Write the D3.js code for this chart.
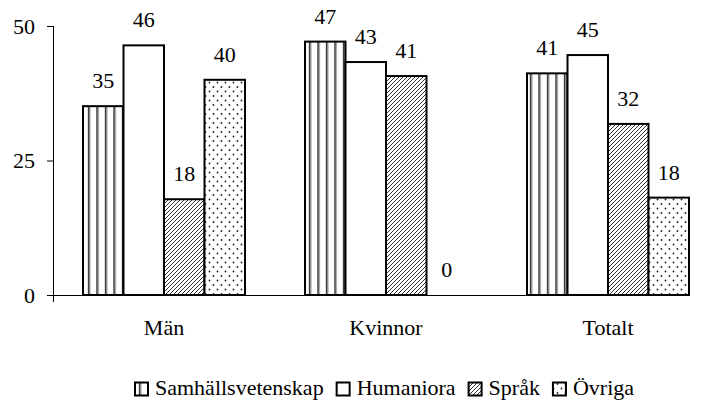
<!DOCTYPE html>
<html>
<head>
<meta charset="utf-8">
<script src="https://cdn.jsdelivr.net/npm/d3@7"></script>
<style>
  body { margin: 0; background: #fff; }
  #chart text { font-family: "Liberation Serif", "Times New Roman", serif; font-size: 22px; fill: #000; }
</style>
</head>
<body>
<svg id="chart" width="712" height="403"></svg>
<script>
// =====================
// Data
// =====================
const categories = ['Män', 'Kvinnor', 'Totalt'];
const series = ['Samhällsvetenskap', 'Humaniora', 'Språk', 'Övriga'];
const samhall   = [35.1, 47.1, 41.2];
const humaniora = [46.4, 43.3, 44.6];
const sprak     = [17.8, 40.7, 31.8];
const ovriga    = [40.0, 0,    18.1];
const yTicks = [0, 25, 50];

const values = [samhall, humaniora, sprak, ovriga];
const data = [];
categories.forEach((c, ci) => {
  series.forEach((s, si) => data.push({ cat: c, ser: s, si: si, value: values[si][ci] }));
});

// =====================
// Layout
// =====================
const
  axisX = 53,       // y-axis position
  baseY = 295,      // value 0
  topY = 26,        // value 50
  step = 222;       // width of one category band

const svg = d3.select('#chart');

// =====================
// Fill patterns
// =====================
const defs = svg.append('defs');

const pStripe = defs.append('pattern')
  .attr('id', 'p0').attr('patternUnits', 'userSpaceOnUse')
  .attr('width', 8.5).attr('height', 10);
pStripe.append('rect').attr('width', 8.5).attr('height', 10).attr('fill', '#fff');
pStripe.append('rect').attr('x', 3).attr('width', 1.3).attr('height', 10).attr('fill', '#000');
pStripe.append('rect').attr('x', 4.3).attr('width', 1).attr('height', 10).attr('fill', '#888');

const pHatch = defs.append('pattern')
  .attr('id', 'p2').attr('patternUnits', 'userSpaceOnUse')
  .attr('width', 4).attr('height', 4);
pHatch.append('rect').attr('width', 4).attr('height', 4).attr('fill', '#fff');
pHatch.append('path')
  .attr('d', 'M-1,1 L1,-1 M0,4 L4,0 M3,5 L5,3')
  .attr('stroke', '#333').attr('stroke-width', 1);

const pDots = defs.append('pattern')
  .attr('id', 'p3').attr('patternUnits', 'userSpaceOnUse')
  .attr('width', 8).attr('height', 9);
pDots.append('rect').attr('width', 8).attr('height', 9).attr('fill', '#fff');
pDots.append('circle').attr('cx', 1.5).attr('cy', 1.5).attr('r', 0.9).attr('fill', '#222');
pDots.append('circle').attr('cx', 5.5).attr('cy', 6).attr('r', 0.9).attr('fill', '#222');

const fills = ['url(#p0)', '#fff', 'url(#p2)', 'url(#p3)'];

// =====================
// Scales
// =====================
const xScale = d3.scaleBand(categories, [axisX, axisX + step * 3])
  .paddingInner(60 / step)
  .paddingOuter(30 / step);
const sScale = d3.scaleBand(series, [0, xScale.bandwidth()]);
const yScale = d3.scaleLinear([0, 50], [baseY, topY]);

// =====================
// Bars
// =====================
svg.append('g')
  .selectAll('rect')
  .data(data.filter(d => d.value > 0))
  .enter()
  .append('rect')
  .attr('x', d => xScale(d.cat) + sScale(d.ser))
  .attr('y', d => yScale(d.value))
  .attr('width', sScale.bandwidth())
  .attr('height', d => baseY - yScale(d.value))
  .attr('fill', d => fills[d.si])
  .attr('stroke', '#000')
  .attr('stroke-width', 2);

// Value labels
svg.append('g')
  .selectAll('text')
  .data(data)
  .enter()
  .append('text')
  .attr('x', d => xScale(d.cat) + sScale(d.ser) + sScale.bandwidth() / 2)
  .attr('y', d => yScale(d.value) - 18)
  .attr('text-anchor', 'middle')
  .text(d => d3.format('.0f')(d.value));

// =====================
// Axes
// =====================
const y_axis = d3.axisLeft(yScale).tickValues(yTicks).tickSize(6).tickPadding(12);
const gy = svg.append('g')
  .attr('transform', 'translate(' + axisX + ',0)')
  .call(y_axis);
gy.select('.domain').remove();
gy.selectAll('line').attr('stroke', '#000');

svg.append('line')   // y-axis line
  .attr('x1', axisX + 0.5).attr('x2', axisX + 0.5)
  .attr('y1', topY).attr('y2', baseY + 7)
  .attr('stroke', '#000');

svg.append('line')   // x-axis line
  .attr('x1', axisX - 5).attr('x2', 690)
  .attr('y1', baseY + 0.5).attr('y2', baseY + 0.5)
  .attr('stroke', '#000');

svg.append('g')
  .selectAll('text')
  .data(categories)
  .enter()
  .append('text')
  .attr('x', d => xScale(d) + xScale.bandwidth() / 2)
  .attr('y', 335)
  .attr('text-anchor', 'middle')
  .text(d => d);

// =====================
// Legend
// =====================
const legend = svg.append('g');
let lx = 135;
series.forEach((s, i) => {
  legend.append('rect')
    .attr('x', lx).attr('y', 382.5)
    .attr('width', 13).attr('height', 13)
    .attr('fill', fills[i])
    .attr('stroke', '#000').attr('stroke-width', 2);
  const t = legend.append('text')
    .attr('x', lx + 20).attr('y', 395)
    .text(s);
  lx += 20 + t.node().getComputedTextLength() + 13;
});
</script>
</body>
</html>
